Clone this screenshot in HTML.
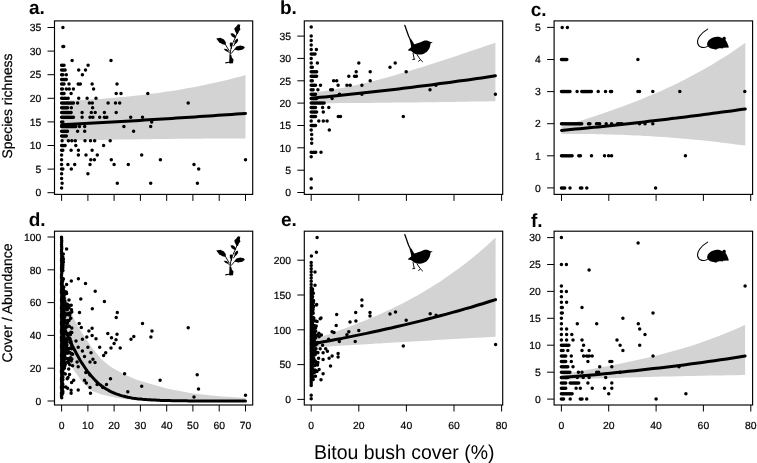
<!DOCTYPE html>
<html><head><meta charset="utf-8"><title>Bitou bush cover figure</title>
<style>html,body{margin:0;padding:0;background:#fff}svg{display:block}</style></head>
<body>
<svg width="757" height="463" viewBox="0 0 757 463" text-rendering="geometricPrecision" font-family="Liberation Sans, Arial, Helvetica, sans-serif">
<rect width="757" height="463" fill="#fff"/>
<g id="panel-a">
<polygon fill="#d3d3d3" points="61.6,101 66.2,100.8 70.8,100.6 75.4,100.4 80,100.1 84.6,99.9 89.2,99.6 93.8,99.3 98.4,99 103,98.7 107.6,98.3 112.2,97.9 116.8,97.6 121.4,97.1 126,96.7 130.6,96.2 135.2,95.7 139.8,95.2 144.4,94.7 148.9,94.1 153.5,93.5 158.1,92.9 162.7,92.3 167.3,91.6 171.9,90.9 176.5,90.2 181.1,89.4 185.7,88.6 190.3,87.8 194.9,86.9 199.5,86 204.1,85.1 208.7,84.1 213.3,83.1 217.9,82.1 222.5,81 227.1,79.9 231.7,78.8 236.3,77.6 240.9,76.4 245.5,75.1 245.5,138.4 240.9,138.5 236.3,138.5 231.7,138.5 227.1,138.5 222.5,138.5 217.9,138.5 213.3,138.6 208.7,138.6 204.1,138.6 199.5,138.7 194.9,138.7 190.3,138.7 185.7,138.8 181.1,138.8 176.5,138.8 171.9,138.9 167.3,138.9 162.7,139 158.1,139 153.5,139.1 148.9,139.2 144.4,139.2 139.8,139.3 135.2,139.4 130.6,139.4 126,139.5 121.4,139.6 116.8,139.6 112.2,139.7 107.6,139.8 103,139.9 98.4,140 93.8,140.1 89.2,140.1 84.6,140.2 80,140.3 75.4,140.4 70.8,140.5 66.2,140.6 61.6,140.7"/>
<path d="M62.9 27.5h0M62.9 46.4h0M63.7 46.4h0M72.1 60.5h0M111 60.5h0M61.6 65.3h0M62.8 65.3h0M64 65.3h0M88.1 65.3h0M61.6 70h0M62.8 70h0M64 70h0M65.1 70h0M78.7 70h0M85.5 70h0M61.6 74.7h0M62.8 74.7h0M66.3 74.7h0M82.4 74.7h0M61.6 79.4h0M62.8 79.4h0M64 79.4h0M65.1 79.4h0M66.3 79.4h0M61.6 84.1h0M62.8 84.1h0M64 84.1h0M69 84.1h0M78.2 84.1h0M80.3 84.1h0M92.1 84.1h0M117 84.1h0M61.6 88.9h0M62.4 88.9h0M66.3 88.9h0M69.2 88.9h0M73.4 88.9h0M93.6 88.9h0M61.6 93.6h0M62.8 93.6h0M64 93.6h0M71.1 93.6h0M116.2 93.6h0M121 93.6h0M147.8 93.6h0M61.6 98.3h0M62.7 98.3h0M64.8 98.3h0M65.8 98.3h0M68.2 98.3h0M78.7 98.3h0M87.1 98.3h0M96 98.3h0M61.6 103h0M62.8 103h0M64 103h0M65.1 103h0M66.3 103h0M67.5 103h0M68.7 103h0M69.9 103h0M71.1 103h0M72.2 103h0M73.4 103h0M77.6 103h0M89.4 103h0M92.3 103h0M108.1 103h0M115.5 103h0M119.7 103h0M188.2 103h0M61.6 107.7h0M62.8 107.7h0M64 107.7h0M65.1 107.7h0M66.3 107.7h0M67.5 107.7h0M71.3 107.7h0M92.6 107.7h0M61.6 112.5h0M62.8 112.5h0M64 112.5h0M65.1 112.5h0M66.3 112.5h0M67.5 112.5h0M68.7 112.5h0M69.9 112.5h0M71.1 112.5h0M82.1 112.5h0M91.3 112.5h0M95.2 112.5h0M104.4 112.5h0M116.2 112.5h0M61.6 117.2h0M62.8 117.2h0M64 117.2h0M65.1 117.2h0M66.3 117.2h0M67.5 117.2h0M68.7 117.2h0M69.9 117.2h0M71.1 117.2h0M72.2 117.2h0M73.4 117.2h0M82.1 117.2h0M90 117.2h0M92.9 117.2h0M99.7 117.2h0M104.4 117.2h0M106.8 117.2h0M130.7 117.2h0M142.5 117.2h0M61.6 121.9h0M62.8 121.9h0M151.7 121.9h0M61.6 126.6h0M62.8 126.6h0M64 126.6h0M65.1 126.6h0M66.3 126.6h0M67.5 126.6h0M68.7 126.6h0M69.9 126.6h0M71.1 126.6h0M72.2 126.6h0M73.4 126.6h0M74.6 126.6h0M75.8 126.6h0M79.5 126.6h0M84.7 126.6h0M123.9 126.6h0M150.7 126.6h0M61.6 131.3h0M62.8 131.3h0M64 131.3h0M65.1 131.3h0M66.3 131.3h0M67.5 131.3h0M77.6 131.3h0M84.7 131.3h0M133.6 131.3h0M61.6 136.1h0M62.8 136.1h0M64 136.1h0M65.1 136.1h0M66.3 136.1h0M62.1 140.8h0M68.4 140.8h0M71.8 140.8h0M75.3 140.8h0M85 140.8h0M90.5 140.8h0M94.7 140.8h0M110.2 140.8h0M61.6 145.5h0M62.8 145.5h0M64 145.5h0M65.1 145.5h0M75.8 145.5h0M103.6 145.5h0M61.6 150.2h0M62.8 150.2h0M71.1 150.2h0M78.4 150.2h0M92.1 150.2h0M61.6 154.9h0M78.4 154.9h0M86 154.9h0M97.3 154.9h0M141.7 154.9h0M61.6 159.7h0M90.8 159.7h0M94.4 159.7h0M111.3 159.7h0M160.4 159.7h0M245.5 159.7h0M61.6 164.4h0M67.9 164.4h0M74.7 164.4h0M90 164.4h0M114.1 164.4h0M128.3 164.4h0M194 164.4h0M61.6 169.1h0M62.8 169.1h0M71.3 169.1h0M198.7 169.1h0M61.6 173.8h0M87.9 173.8h0M61.6 178.5h0M62.1 183.3h0M117.3 183.3h0M150.7 183.3h0M197.4 183.3h0M61.6 188h0" stroke="#000" stroke-width="3.5" stroke-linecap="round" fill="none"/>
<polyline fill="none" stroke="#000" stroke-width="3" stroke-linecap="round" stroke-linejoin="round" points="61.6,124.7 66.2,124.5 70.8,124.3 75.4,124 80,123.8 84.6,123.5 89.2,123.3 93.8,123 98.4,122.8 103,122.5 107.6,122.3 112.2,122 116.8,121.7 121.4,121.5 126,121.2 130.6,120.9 135.2,120.7 139.8,120.4 144.4,120.1 148.9,119.8 153.5,119.6 158.1,119.3 162.7,119 167.3,118.7 171.9,118.4 176.5,118.1 181.1,117.8 185.7,117.5 190.3,117.2 194.9,116.9 199.5,116.6 204.1,116.3 208.7,116 213.3,115.7 217.9,115.3 222.5,115 227.1,114.7 231.7,114.4 236.3,114.1 240.9,113.7 245.5,113.4"/>
<rect x="54.5" y="20.9" width="198.2" height="173.5" fill="none" stroke="#000" stroke-width="1.15"/>
<path d="M54.5 192.7h-7M54.5 169.1h-7M54.5 145.5h-7M54.5 121.9h-7M54.5 98.3h-7M54.5 74.7h-7M54.5 51.1h-7M54.5 27.5h-7M61.6 194.4v6.5M87.9 194.4v6.5M114.1 194.4v6.5M140.4 194.4v6.5M166.7 194.4v6.5M192.9 194.4v6.5M219.2 194.4v6.5M245.5 194.4v6.5" stroke="#000" stroke-width="1" fill="none"/>
<g font-size="10.4" fill="#000" stroke="#000" stroke-width="0.2">
<text x="41.3" y="196.4" text-anchor="end">0</text>
<text x="41.3" y="172.8" text-anchor="end">5</text>
<text x="41.3" y="149.2" text-anchor="end">10</text>
<text x="41.3" y="125.6" text-anchor="end">15</text>
<text x="41.3" y="102" text-anchor="end">20</text>
<text x="41.3" y="78.4" text-anchor="end">25</text>
<text x="41.3" y="54.8" text-anchor="end">30</text>
<text x="41.3" y="31.2" text-anchor="end">35</text>
</g>
<text x="29" y="13.9" font-size="19" font-weight="bold" fill="#000">a.</text>
</g>
<g id="panel-b">
<polygon fill="#d3d3d3" points="311.2,93.1 315.8,92.4 320.4,91.8 325,91.1 329.6,90.3 334.2,89.5 338.8,88.6 343.4,87.7 348,86.8 352.6,85.8 357.3,84.8 361.9,83.7 366.5,82.7 371.1,81.5 375.7,80.4 380.3,79.2 384.9,77.9 389.5,76.7 394.1,75.4 398.7,74.1 403.3,72.7 407.9,71.4 412.5,70 417.1,68.6 421.7,67.2 426.3,65.7 430.9,64.2 435.5,62.8 440.1,61.3 444.8,59.8 449.4,58.2 454,56.7 458.6,55.2 463.2,53.6 467.8,52.1 472.4,50.5 477,48.9 481.6,47.4 486.2,45.8 490.8,44.2 495.4,42.7 495.4,101.2 490.8,101.3 486.2,101.4 481.6,101.5 477,101.5 472.4,101.6 467.8,101.7 463.2,101.8 458.6,101.8 454,101.9 449.4,102 444.8,102 440.1,102.1 435.5,102.2 430.9,102.2 426.3,102.3 421.7,102.3 417.1,102.4 412.5,102.4 407.9,102.5 403.3,102.5 398.7,102.6 394.1,102.6 389.5,102.7 384.9,102.7 380.3,102.8 375.7,102.8 371.1,102.9 366.5,102.9 361.9,102.9 357.3,103 352.6,103 348,103.1 343.4,103.1 338.8,103.1 334.2,103.2 329.6,103.2 325,103.2 320.4,103.2 315.8,103.3 311.2,103.3"/>
<path d="M311.2 27.1h0M311.2 36.1h0M311.2 40.5h0M311.2 45h0M311.2 49.5h0M316.4 49.5h0M311.2 53.9h0M313.1 53.9h0M315 53.9h0M311.2 58.4h0M311.2 62.9h0M317.4 62.9h0M358.8 62.9h0M395.2 62.9h0M311.2 67.3h0M312.3 67.3h0M390 67.3h0M311.2 71.8h0M312.3 71.8h0M313.3 71.8h0M314.4 71.8h0M315.5 71.8h0M316.6 71.8h0M356.2 71.8h0M370.2 71.8h0M406.2 71.8h0M311.2 76.3h0M312.3 76.3h0M313.3 76.3h0M314.4 76.3h0M315.5 76.3h0M316.6 76.3h0M348.8 76.3h0M354.5 76.3h0M356.4 76.3h0M311.2 80.8h0M312.3 80.8h0M333.6 80.8h0M336.7 80.8h0M370.2 80.8h0M311.2 85.2h0M312.3 85.2h0M313.3 85.2h0M314.4 85.2h0M315.5 85.2h0M320.5 85.2h0M338.1 85.2h0M346.9 85.2h0M350.2 85.2h0M361.9 85.2h0M435.9 85.2h0M311.2 89.7h0M313.1 89.7h0M317.9 89.7h0M330.7 89.7h0M332.4 89.7h0M430 89.7h0M311.2 94.2h0M312.3 94.2h0M313.3 94.2h0M314.4 94.2h0M315.5 94.2h0M339.5 94.2h0M361.9 94.2h0M495.4 94.2h0M311.2 98.6h0M312.3 98.6h0M313.3 98.6h0M314.4 98.6h0M315.5 98.6h0M316.6 98.6h0M332.1 98.6h0M311.2 103.1h0M312.3 103.1h0M313.3 103.1h0M314.4 103.1h0M315.5 103.1h0M316.6 103.1h0M317.6 103.1h0M318.7 103.1h0M319.8 103.1h0M320.8 103.1h0M321.9 103.1h0M323 103.1h0M324.1 103.1h0M311.2 107.6h0M312.3 107.6h0M313.3 107.6h0M314.4 107.6h0M315.5 107.6h0M322.6 107.6h0M328.8 107.6h0M311.2 112h0M312.3 112h0M313.3 112h0M314.4 112h0M315.5 112h0M316.6 112h0M323.3 112h0M311.2 116.5h0M312.3 116.5h0M313.3 116.5h0M314.4 116.5h0M315.5 116.5h0M338.3 116.5h0M340.5 116.5h0M403.3 116.5h0M311.2 121h0M318.8 121h0M323.3 121h0M327.1 121h0M311.2 125.5h0M312.3 125.5h0M313.3 125.5h0M314.4 125.5h0M315.5 125.5h0M311.2 129.9h0M329.3 129.9h0M311.7 134.4h0M311.7 138.9h0M311.7 143.3h0M311.2 152.3h0M313.6 152.3h0M315.7 152.3h0M321 152.3h0M311.2 156.7h0M311.2 179.1h0M311.2 188h0" stroke="#000" stroke-width="3.5" stroke-linecap="round" fill="none"/>
<polyline fill="none" stroke="#000" stroke-width="3" stroke-linecap="round" stroke-linejoin="round" points="311.2,98.2 315.8,97.8 320.4,97.3 325,96.9 329.6,96.4 334.2,96 338.8,95.5 343.4,95 348,94.6 352.6,94.1 357.3,93.6 361.9,93.1 366.5,92.6 371.1,92.1 375.7,91.6 380.3,91 384.9,90.5 389.5,90 394.1,89.4 398.7,88.9 403.3,88.3 407.9,87.8 412.5,87.2 417.1,86.6 421.7,86 426.3,85.4 430.9,84.9 435.5,84.3 440.1,83.6 444.8,83 449.4,82.4 454,81.8 458.6,81.1 463.2,80.5 467.8,79.9 472.4,79.2 477,78.5 481.6,77.9 486.2,77.2 490.8,76.5 495.4,75.8"/>
<rect x="304.3" y="20.9" width="198.4" height="173.5" fill="none" stroke="#000" stroke-width="1.15"/>
<path d="M304.3 192.5h-7M304.3 170.2h-7M304.3 147.8h-7M304.3 125.5h-7M304.3 103.1h-7M304.3 80.8h-7M304.3 58.4h-7M304.3 36.1h-7M311.2 194.4v6.5M358.8 194.4v6.5M406.4 194.4v6.5M454 194.4v6.5M501.6 194.4v6.5" stroke="#000" stroke-width="1" fill="none"/>
<g font-size="10.4" fill="#000" stroke="#000" stroke-width="0.2">
<text x="291.1" y="196.2" text-anchor="end">0</text>
<text x="291.1" y="173.8" text-anchor="end">5</text>
<text x="291.1" y="151.5" text-anchor="end">10</text>
<text x="291.1" y="129.2" text-anchor="end">15</text>
<text x="291.1" y="106.8" text-anchor="end">20</text>
<text x="291.1" y="84.5" text-anchor="end">25</text>
<text x="291.1" y="62.1" text-anchor="end">30</text>
<text x="291.1" y="39.8" text-anchor="end">35</text>
</g>
<text x="279.9" y="14.1" font-size="19" font-weight="bold" fill="#000">b.</text>
</g>
<g id="panel-c">
<polygon fill="#d3d3d3" points="561.5,126.5 566.1,125.2 570.7,123.7 575.3,122.3 579.9,120.9 584.5,119.4 589.1,117.9 593.7,116.4 598.3,114.9 602.8,113.4 607.4,111.8 612,110.2 616.6,108.6 621.2,106.9 625.8,105.2 630.4,103.5 635,101.7 639.6,99.9 644.2,98 648.8,96.1 653.4,94.2 658,92.2 662.6,90.2 667.2,88.1 671.8,85.9 676.4,83.7 680.9,81.5 685.5,79.2 690.1,76.8 694.7,74.3 699.3,71.8 703.9,69.3 708.5,66.6 713.1,63.9 717.7,61.1 722.3,58.3 726.9,55.4 731.5,52.4 736.1,49.3 740.7,46.1 745.3,42.8 745.3,145.6 740.7,145 736.1,144.4 731.5,143.8 726.9,143.2 722.3,142.7 717.7,142.1 713.1,141.6 708.5,141.1 703.9,140.6 699.3,140.1 694.7,139.7 690.1,139.2 685.5,138.8 680.9,138.4 676.4,138 671.8,137.7 667.2,137.3 662.6,137 658,136.7 653.4,136.4 648.8,136.1 644.2,135.9 639.6,135.6 635,135.4 630.4,135.2 625.8,135 621.2,134.8 616.6,134.7 612,134.5 607.4,134.4 602.8,134.3 598.3,134.2 593.7,134.1 589.1,134.1 584.5,134 579.9,134 575.3,134 570.7,134 566.1,134.1 561.5,134.1"/>
<path d="M562.2 27.4h0M567.4 27.4h0M561.5 59.5h0M562.6 59.5h0M563.6 59.5h0M564.7 59.5h0M565.8 59.5h0M566.8 59.5h0M637.9 59.5h0M561.5 91.6h0M562.6 91.6h0M563.6 91.6h0M564.7 91.6h0M565.8 91.6h0M566.8 91.6h0M567.9 91.6h0M568.9 91.6h0M570 91.6h0M577.1 91.6h0M581.8 91.6h0M582.9 91.6h0M584 91.6h0M585 91.6h0M586.1 91.6h0M587.2 91.6h0M588.2 91.6h0M589.3 91.6h0M590.4 91.6h0M591.4 91.6h0M598.2 91.6h0M605.5 91.6h0M610.5 91.6h0M611.6 91.6h0M637.9 91.6h0M639.5 91.6h0M652.8 91.6h0M679.8 91.6h0M744.8 91.6h0M561.5 123.7h0M562.6 123.7h0M563.6 123.7h0M564.7 123.7h0M565.8 123.7h0M566.8 123.7h0M567.9 123.7h0M568.9 123.7h0M570 123.7h0M571.1 123.7h0M572.1 123.7h0M573.2 123.7h0M574.3 123.7h0M575.3 123.7h0M576.4 123.7h0M577.5 123.7h0M578.5 123.7h0M579.6 123.7h0M580.7 123.7h0M581.7 123.7h0M588.5 123.7h0M589.9 123.7h0M596.5 123.7h0M597.6 123.7h0M598.6 123.7h0M599.7 123.7h0M606.2 123.7h0M611.6 123.7h0M617.6 123.7h0M618.6 123.7h0M619.7 123.7h0M620.7 123.7h0M621.8 123.7h0M639.5 123.7h0M645 123.7h0M652.8 123.7h0M561.5 155.8h0M562.6 155.8h0M563.6 155.8h0M564.7 155.8h0M565.8 155.8h0M566.8 155.8h0M567.9 155.8h0M568.9 155.8h0M570 155.8h0M571.1 155.8h0M572.1 155.8h0M578.8 155.8h0M580.4 155.8h0M591.5 155.8h0M604.5 155.8h0M608.6 155.8h0M611.6 155.8h0M685.4 155.8h0M561.5 187.9h0M562.6 187.9h0M563.6 187.9h0M564.7 187.9h0M570 187.9h0M580.4 187.9h0M581.8 187.9h0M586.8 187.9h0M655.6 187.9h0" stroke="#000" stroke-width="3.5" stroke-linecap="round" fill="none"/>
<polyline fill="none" stroke="#000" stroke-width="3" stroke-linecap="round" stroke-linejoin="round" points="561.5,130.4 566.1,130 570.7,129.6 575.3,129.1 579.9,128.7 584.5,128.2 589.1,127.8 593.7,127.3 598.3,126.9 602.8,126.4 607.4,125.9 612,125.4 616.6,124.9 621.2,124.4 625.8,123.9 630.4,123.4 635,122.9 639.6,122.4 644.2,121.9 648.8,121.3 653.4,120.8 658,120.3 662.6,119.7 667.2,119.2 671.8,118.6 676.4,118.1 680.9,117.5 685.5,116.9 690.1,116.3 694.7,115.7 699.3,115.2 703.9,114.6 708.5,114 713.1,113.3 717.7,112.7 722.3,112.1 726.9,111.5 731.5,110.9 736.1,110.2 740.7,109.6 745.3,108.9"/>
<rect x="554.1" y="20.9" width="198.5" height="173.5" fill="none" stroke="#000" stroke-width="1.15"/>
<path d="M554.1 187.9h-7M554.1 155.8h-7M554.1 123.7h-7M554.1 91.6h-7M554.1 59.5h-7M554.1 27.4h-7M561.5 194.4v6.5M608.8 194.4v6.5M656.1 194.4v6.5M703.4 194.4v6.5M750.7 194.4v6.5" stroke="#000" stroke-width="1" fill="none"/>
<g font-size="10.4" fill="#000" stroke="#000" stroke-width="0.2">
<text x="540.9" y="191.6" text-anchor="end">0</text>
<text x="540.9" y="159.5" text-anchor="end">1</text>
<text x="540.9" y="127.4" text-anchor="end">2</text>
<text x="540.9" y="95.3" text-anchor="end">3</text>
<text x="540.9" y="63.2" text-anchor="end">4</text>
<text x="540.9" y="31.1" text-anchor="end">5</text>
</g>
<text x="530.8" y="15.9" font-size="19" font-weight="bold" fill="#000">c.</text>
</g>
<g id="panel-d">
<polygon fill="#d3d3d3" points="61.6,282.9 63.4,289 67.9,301.9 73.2,317.5 80.8,331 91.8,347.5 101,358.7 109.9,366.2 114.9,369.2 125.7,374.9 136.5,379.7 150.1,383.8 166.7,388.5 192.9,393.5 219.2,396.2 245.5,397.9 245.5,401.5 166.7,401 140.4,400.3 125.7,399.2 109.9,396.4 101,394.3 91.8,390.7 82.6,382.5 73.4,369.5 68.7,356.7 64.2,338.7 61.6,325.6"/>
<path d="M66.6 249h0M71.3 281h0M78.4 278.7h0M85.5 283.4h0M95.2 291.3h0M104.4 301.6h0M80.8 299h0M92.3 308.7h0M79.5 312.6h0M117.3 312.6h0M116.2 317.5h0M66.6 284.6h0M66.6 293.6h0M69 300h0M68.4 307.5h0M69.5 314.1h0M142.5 323.4h0M79.2 323.4h0M81.3 327.4h0M92.1 328.3h0M88.9 331.1h0M107.8 333.4h0M117 334.3h0M92.1 335.6h0M86.8 337h0M111.5 337.7h0M96 338.7h0M133.8 336.4h0M131 339.2h0M116 339.8h0M82.4 339.2h0M76 341h0M114.1 343.6h0M99.7 347.2h0M111 347.9h0M120.2 347.9h0M87.9 347.2h0M78.2 347.2h0M82.4 351.1h0M91 352.8h0M105.7 352.8h0M103.6 355.4h0M84.5 356.6h0M72.6 354.3h0M92.9 359.3h0M90 362h0M95 362.6h0M77.1 362h0M78.2 366.7h0M72.6 365.7h0M85.8 372.6h0M124.6 373.8h0M69.5 374.4h0M110.5 378.7h0M90 374.9h0M84.5 380.3h0M73.7 380.3h0M71.6 382.5h0M86.3 383.1h0M97.1 384.6h0M106.5 384.6h0M102.8 387.4h0M90 387.4h0M141.7 386.2h0M127.8 391.7h0M90.5 393.3h0M78.2 390h0M71.1 390.3h0M71.1 393.3h0M188.2 327.7h0M152 331h0M150.9 337h0M160.1 380.2h0M197.2 374.8h0M198.5 389h0M194 396.9h0M245.5 395.3h0M61.7 397.7h0M61.5 395.9h0M61.5 394.1h0M61.7 392.3h0M61.7 390.5h0M61.6 388.7h0M61.5 386.9h0M61.6 385.1h0M61.7 383.3h0M61.6 381.5h0M61.5 379.7h0M61.5 377.9h0M61.7 376.1h0M61.7 374.3h0M61.5 372.5h0M61.5 370.7h0M61.6 368.9h0M61.7 367.1h0M61.6 365.2h0M61.5 363.4h0M61.6 361.6h0M61.7 359.8h0M61.7 358h0M61.5 356.2h0M61.5 354.4h0M61.7 352.6h0M61.7 350.8h0M61.6 349h0M61.5 347.2h0M61.6 345.4h0M61.7 343.6h0M61.6 341.8h0M61.5 340h0M61.6 338.2h0M61.7 336.4h0M61.7 334.6h0M61.5 332.8h0M61.5 331h0M61.6 329.2h0M61.7 327.4h0M61.6 325.6h0M61.5 323.8h0M61.6 322h0M61.7 320.1h0M61.6 318.3h0M61.5 316.5h0M61.5 314.7h0M61.7 312.9h0M61.7 311.1h0M61.6 309.3h0M61.5 307.5h0M61.6 305.7h0M61.7 303.9h0M61.6 302.1h0M61.5 300.3h0M61.6 298.5h0M61.7 296.7h0M61.7 294.9h0M61.5 293.1h0M61.5 291.3h0M61.6 289.5h0M61.7 287.7h0M61.6 285.9h0M61.5 284.1h0M61.6 282.3h0M61.7 280.5h0M61.6 278.7h0M61.5 276.9h0M61.5 275h0M61.7 273.2h0M61.7 271.4h0M61.6 269.6h0M61.5 267.8h0M61.6 266h0M61.7 264.2h0M61.6 262.4h0M61.5 260.6h0M61.6 258.8h0M61.7 257h0M61.7 255.2h0M61.5 253.4h0M61.5 251.6h0M61.6 249.8h0M61.7 248h0M61.6 246.2h0M61.5 244.4h0M61.6 242.6h0M61.7 240.8h0M61.6 239h0M61.5 237.2h0M61.9 339.5h0M61.7 313.8h0M62.5 322.8h0M62.9 360.3h0M62.7 362h0M61.7 359.3h0M63.8 331.5h0M62.1 355.2h0M64.1 315.6h0M62.6 319.5h0M61.6 288h0M62.3 297.4h0M61.8 353.6h0M63.7 340.6h0M63.1 350.7h0M62.5 314.6h0M61.7 321.8h0M62 360.2h0M62.7 311.3h0M63.1 340.2h0M62.3 329.2h0M63.4 302.4h0M63 345.7h0M63.9 323.6h0M62.3 307.5h0M61.8 287.8h0M63.5 332h0M62.8 352.9h0M63.3 361.8h0M63 304.7h0M62.3 296h0M63.1 310.1h0M62.7 319.3h0M64.1 298.8h0M63.3 327.5h0M63.4 360.2h0M64.2 313.9h0M62.3 300.1h0M63.3 334.6h0M62.7 363.1h0M61.8 351.6h0M63.6 360.3h0M62.2 354.8h0M63.9 334.1h0M62.7 358.5h0M63.9 321.6h0M63.9 300.5h0M62.6 342.9h0M63.9 336.7h0M61.9 289.5h0M62.1 351h0M62.8 346.6h0M62.2 318.5h0M62.6 364.6h0M63 335.9h0M63.4 290h0M63.2 324.4h0M61.6 311.6h0M63.6 294.1h0M63.7 296h0M62.6 334.1h0M63.2 356.7h0M61.7 360h0M61.9 348.5h0M61.6 338.2h0M61.9 364.9h0M62.5 356.9h0M63.9 363h0M61.9 316.5h0M62.4 345.1h0M61.8 336.2h0M64.2 298.2h0M62.8 328.2h0M61.8 358.2h0M62.2 338h0M61.9 299.6h0M64.1 363.1h0M61.9 323.3h0M61.5 322.1h0M64.2 323.4h0M63.4 297h0M62.5 344.4h0M63.6 351.8h0M63.6 322.9h0M62.1 339h0M64.2 301h0M63.7 297.8h0M63.5 300.5h0M62.9 347h0M61.5 336.9h0M62.2 362.8h0M63.4 344.6h0M62.7 289.6h0M64.2 291.1h0M62.5 289.8h0M62.1 347.5h0M62 349.5h0M64 315.7h0M62.8 298.8h0M63.7 313.6h0M63.3 358.2h0M63.6 293.3h0M62.8 305.9h0M63.6 350.8h0M63.7 338.7h0M62.6 288.5h0M64.1 333.3h0M61.9 307.8h0M61.9 354.9h0M63.7 293.7h0M63.8 353.4h0M63.3 287.7h0M63 337.4h0M61.5 354.6h0M63.3 288.5h0M64 323.4h0M63.9 330.8h0M62 299.8h0M62.3 345.1h0M63.1 346.1h0M62.6 344.6h0M64 354.6h0M62.7 337h0M64 319h0M64 331.8h0M62.9 325.4h0M61.5 323.8h0M62 330.3h0M63.7 364.6h0M62.8 351.3h0M63 307.8h0M62.9 339.3h0M63.6 321.1h0M63 356.6h0M62.2 345.4h0M62.9 304.1h0M63.6 320.6h0M62.7 293.1h0M62.9 316.7h0M63.4 324.6h0M62.9 329.3h0M64.1 327.4h0M63.9 309.8h0M62.2 290.8h0M64.1 320.8h0M61.8 298.8h0M62.7 355.4h0M62.1 359.2h0M63.3 359.2h0M63.9 303.3h0M63.4 352.8h0M61.9 312.9h0M64.1 295.4h0M64.1 347.7h0M62.8 333.6h0M63.8 287h0M62.7 352.1h0M62.4 324.4h0M62.3 349.5h0M61.5 308h0M62.7 321.3h0M62.4 363.4h0M62.9 315.9h0M64.2 359.8h0M64.1 302.9h0M62.2 356.7h0M63.6 361.8h0M61.8 343.6h0M64 331.6h0M62.2 300.5h0M64 353.1h0M63.4 320h0M61.6 357.9h0M62.7 310.8h0M64.1 359.2h0M63.7 314.9h0M63.8 358.4h0M63.9 359.7h0M62.4 329.2h0M64 321.5h0M61.8 343.8h0M62.1 323.4h0M61.9 356.2h0M62 361h0M62.3 340.3h0M62.3 305.1h0M62 325.6h0M61.5 337.5h0M61.5 345.2h0M63 307.2h0M62.2 388.9h0M61.6 366.9h0M62.2 370.3h0M62.8 379.8h0M62.3 382.8h0M63 374.1h0M62.8 384.3h0M62.5 373.6h0M62 382.5h0M61.7 392.8h0M62.6 392.3h0M61.7 386.9h0M62.8 392h0M62.5 368.7h0M61.9 386.1h0M62.2 385.7h0M62.2 389.8h0M63 386.7h0M62.3 365.7h0M63 387.2h0M62 385.3h0M62.1 394.4h0M62.3 380.5h0M62.3 388.5h0M61.9 394.3h0M62.1 391.8h0M61.5 393.1h0M61.8 385.4h0M62.3 377.2h0M62.5 372.3h0M62.9 373.3h0M62 383h0M61.7 365.4h0M62.5 373.1h0M62.8 393.1h0M62.5 368h0M62.8 372.8h0M62.3 390.3h0M62.8 379.5h0M62.8 370.7h0M62.9 377.2h0M62.6 374.3h0M61.5 387.7h0M62 390.5h0M62.8 391.3h0M62.8 267.8h0M62.9 265.7h0M61.6 270.1h0M63 260h0M62.6 269.6h0M61.7 264.6h0M62.1 262.1h0M62.1 283.7h0M62 262.3h0M63.4 261.9h0M62.3 270h0M62.9 270.5h0M62.7 261.1h0M61.7 265h0M62.1 281.4h0M62.2 261.8h0M61.6 267.5h0M62.1 284.2h0M62.9 264.2h0M62.1 264.1h0M62.5 269.3h0M61.8 270.9h0M62 256.8h0M63.3 254.1h0M62.4 285.5h0M63.4 259.3h0M62.1 271.4h0M63.3 279.3h0M62.7 279.3h0M62.6 281.6h0M61.8 254.9h0M62.5 259.3h0M62.9 257.2h0M63.3 278.7h0M61.7 270.3h0M65.8 387.1h0M64.9 344.4h0M65.1 365.1h0M68.8 352.1h0M67.6 388.2h0M64.3 319.2h0M67.2 309.7h0M64.9 312.8h0M65.3 348.7h0M66.3 292.1h0M65.4 349.3h0M64.1 354.8h0M68.7 369h0M71.2 353.9h0M64.8 356.4h0M64.5 341.3h0M71.8 348.7h0M68.4 314.7h0M70.4 334.6h0M66.1 307.5h0M64.1 328.8h0M65.5 327.9h0M66.7 326.4h0M64.1 353.9h0M64.3 309.5h0M65.1 343.4h0M67.5 353.3h0M64.8 301h0M64.9 332.9h0M65.3 338.8h0M64.4 362.8h0M70.2 359.5h0M64.6 342.1h0M71.8 312.1h0M64.4 344.6h0M64.2 360.7h0M64.2 350.5h0M64.8 357.2h0M69.7 338.2h0M65.4 326.5h0M65.9 346.4h0M65 348.5h0M64.8 373.8h0M64.3 302.8h0M66.6 341.8h0M64.6 317h0M64.7 354.9h0M65.5 347.2h0M68.9 305.4h0M64 315.9h0M67.2 378.7h0M65.6 313.4h0M64 337.2h0M70.8 347.7h0M69 320.5h0M64.7 301.8h0M64.4 368.2h0M67 340.8h0M67.3 307.4h0M67.8 333.6h0M66.1 344.1h0M68 377.4h0M70.6 357.7h0M64.9 333.6h0M64.7 366.2h0M67.1 334.3h0M64.1 367.9h0M66.2 340.6h0M64.6 347.9h0M64 336.4h0M65.6 352.9h0M66.7 304.6h0M65.6 314.7h0M64.7 357.5h0M67.2 304.2h0M64 352.6h0M66.9 342h0M64.8 346.1h0M70.8 332.3h0M64 358h0M65.4 350.7h0M64.5 331.3h0M67.5 322.9h0M64.6 341.6h0M64.9 302.4h0M64.6 321h0M67.7 358.4h0M71.8 353.4h0M64.5 342.1h0M65.4 358.4h0M71.8 332.4h0M65.3 364.6h0M71.8 359h0M64.1 364.9h0M65.3 374.1h0M69.6 313.1h0M71.8 327.9h0M65 308.8h0M71.2 361.1h0M64 326.9h0M67 323.6h0M66.7 341.6h0M64.3 354.4h0M66.8 347.5h0M65.1 305.4h0M65.8 304.9h0M70.3 342.6h0M67.4 313.8h0M67.7 361.8h0M71 341.6h0M66.9 352.9h0M64.4 309h0M70.2 339.3h0M64.5 317.2h0M64.7 362.8h0M66.1 307.5h0M70.8 318.3h0M66.2 343.8h0M68.8 305.2h0M69.5 348.5h0M66.2 345.2h0M69.8 364.8h0M68.9 307.8h0M64.4 306.2h0M67.7 350.3h0M71.2 305.2h0M66.1 340.8h0M67.9 338.2h0M65.6 307h0M69.7 314.9h0M69.9 313.6h0M66.6 327h0M66.9 345.1h0M64.8 316.2h0M69.8 352.6h0M64.7 349.5h0M68.3 362.8h0M71.4 344.6h0M71.5 309.8h0M64.9 348.4h0M67.9 358.9h0M67.5 320.6h0M67.3 350.3h0M69.2 326.2h0M70.5 318.3h0" stroke="#000" stroke-width="3.5" stroke-linecap="round" fill="none"/>
<polyline fill="none" stroke="#000" stroke-width="3" stroke-linecap="round" stroke-linejoin="round" points="61.6,322.3 63.4,326.4 65.3,330.5 67.1,334.6 69,338.5 70.8,342.4 72.6,346.2 74.5,349.8 76.3,353.3 78.2,356.7 80,359.9 81.8,362.9 83.7,365.8 85.5,368.5 87.3,371.1 89.2,373.5 91,375.8 92.9,377.8 94.7,379.8 96.5,381.6 98.4,383.3 100.2,384.8 102.1,386.2 103.9,387.5 105.7,388.7 107.6,389.8 109.4,390.9 111.3,391.8 113.1,392.6 114.9,393.4 116.8,394.1 118.6,394.7 120.4,395.3 122.3,395.9 124.1,396.3 126,396.8 127.8,397.2 129.6,397.5 131.5,397.9 133.3,398.2 135.2,398.4 137,398.7 138.8,398.9 140.7,399.1 142.5,399.3 144.4,399.4 146.2,399.6 148,399.7 149.9,399.8 151.7,400 153.5,400.1 155.4,400.1 157.2,400.2 159.1,400.3 160.9,400.4 162.7,400.4 164.6,400.5 166.4,400.5 168.3,400.6 170.1,400.6 171.9,400.7 173.8,400.7 175.6,400.7 177.5,400.7 179.3,400.8 181.1,400.8 183,400.8 184.8,400.8 186.6,400.8 188.5,400.9 190.3,400.9 192.2,400.9 194,400.9 195.8,400.9 197.7,400.9 199.5,400.9 201.4,400.9 203.2,400.9 205,400.9 206.9,401 208.7,401 210.6,401 212.4,401 214.2,401 216.1,401 217.9,401 219.7,401 221.6,401 223.4,401 225.3,401 227.1,401 228.9,401 230.8,401 232.6,401 234.5,401 236.3,401 238.1,401 240,401 241.8,401 243.7,401 245.5,401"/>
<rect x="54.5" y="231.2" width="198.2" height="173.8" fill="none" stroke="#000" stroke-width="1.15"/>
<path d="M54.5 401h-7M54.5 368.2h-7M54.5 335.4h-7M54.5 302.6h-7M54.5 269.8h-7M54.5 237h-7M61.6 405v6.5M87.9 405v6.5M114.1 405v6.5M140.4 405v6.5M166.7 405v6.5M192.9 405v6.5M219.2 405v6.5M245.5 405v6.5" stroke="#000" stroke-width="1" fill="none"/>
<g font-size="10.4" fill="#000" stroke="#000" stroke-width="0.2">
<text x="41.3" y="404.7" text-anchor="end">0</text>
<text x="41.3" y="371.9" text-anchor="end">20</text>
<text x="41.3" y="339.1" text-anchor="end">40</text>
<text x="41.3" y="306.3" text-anchor="end">60</text>
<text x="41.3" y="273.5" text-anchor="end">80</text>
<text x="41.3" y="240.7" text-anchor="end">100</text>
<text x="61.6" y="429.4" text-anchor="middle">0</text>
<text x="87.9" y="429.4" text-anchor="middle">10</text>
<text x="114.1" y="429.4" text-anchor="middle">20</text>
<text x="140.4" y="429.4" text-anchor="middle">30</text>
<text x="166.7" y="429.4" text-anchor="middle">40</text>
<text x="192.9" y="429.4" text-anchor="middle">50</text>
<text x="219.2" y="429.4" text-anchor="middle">60</text>
<text x="245.5" y="429.4" text-anchor="middle">70</text>
</g>
<text x="28.7" y="226.3" font-size="19" font-weight="bold" fill="#000">d.</text>
</g>
<g id="panel-e">
<polygon fill="#d3d3d3" points="311.2,340.4 315.8,338.8 320.4,337.2 325,335.6 329.6,334 334.3,332.3 338.9,330.6 343.5,328.9 348.1,327.2 352.7,325.4 357.3,323.6 361.9,321.8 366.5,319.9 371.1,318 375.8,316 380.4,313.9 385,311.8 389.6,309.7 394.2,307.5 398.8,305.2 403.4,302.9 408,300.4 412.6,298 417.3,295.4 421.9,292.8 426.5,290 431.1,287.2 435.7,284.3 440.3,281.4 444.9,278.3 449.5,275.1 454.1,271.8 458.8,268.5 463.4,265 468,261.4 472.6,257.7 477.2,253.9 481.8,249.9 486.4,245.9 491,241.7 495.6,237.4 495.6,336.7 491,336.9 486.4,337.2 481.8,337.5 477.2,337.7 472.6,338 468,338.2 463.4,338.5 458.8,338.8 454.1,339 449.5,339.3 444.9,339.6 440.3,339.8 435.7,340.1 431.1,340.4 426.5,340.7 421.9,340.9 417.3,341.2 412.6,341.5 408,341.7 403.4,342 398.8,342.3 394.2,342.5 389.6,342.8 385,343.1 380.4,343.4 375.8,343.6 371.1,343.9 366.5,344.2 361.9,344.5 357.3,344.7 352.7,345 348.1,345.3 343.5,345.6 338.9,345.8 334.3,346.1 329.6,346.4 325,346.7 320.4,347 315.8,347.2 311.2,347.5"/>
<path d="M317.1 237.6h0M316.4 252.2h0M311.4 256h0M315 272h0M315 285.3h0M316.4 305h0M321 318h0M336.7 314.5h0M355.7 312.4h0M361.9 299.9h0M361.9 305.7h0M370 312.6h0M370 316h0M390 313.9h0M395.5 311.9h0M316.7 304.4h0M406.2 320.3h0M320.2 318.7h0M317.1 321.4h0M350 322.1h0M355.9 321h0M336.2 325.6h0M315.5 328.1h0M358.8 330.5h0M348.8 331.7h0M332.1 331.7h0M334 332.6h0M346.9 334.7h0M321.4 335h0M316.7 335.7h0M328.6 339.3h0M339.3 341.6h0M355.2 341.6h0M403.3 345.9h0M322.6 345.3h0M320.2 348.8h0M325.7 348.8h0M327.4 351.2h0M323.1 352.8h0M338.1 353.5h0M332.1 355.9h0M338.1 357.1h0M329.1 358.3h0M323.1 359.5h0M330.5 366.1h0M319.1 369.5h0M323.1 373.7h0M321 379.7h0M315.5 376.2h0M311.2 395.2h0M311.2 398.7h0M430.2 313.8h0M436.1 315.2h0M495.6 344.4h0M311.2 385.5h0M311.2 383.9h0M311.2 382.4h0M311.2 380.9h0M311.2 379.4h0M311.2 377.8h0M311.2 376.3h0M311.2 374.8h0M311.2 373.2h0M311.2 371.7h0M311.2 370.2h0M311.2 368.6h0M311.2 367.1h0M311.2 365.6h0M311.2 364h0M311.2 362.5h0M311.2 361h0M311.2 359.4h0M311.2 357.9h0M311.2 356.4h0M311.2 354.9h0M311.2 353.3h0M311.2 351.8h0M311.2 350.3h0M311.2 348.7h0M311.2 347.2h0M311.2 345.7h0M311.2 344.1h0M311.2 342.6h0M311.2 341.1h0M311.2 339.5h0M311.2 338h0M311.2 336.5h0M311.2 335h0M311.2 333.4h0M311.2 331.9h0M311.2 330.4h0M311.2 328.8h0M311.2 327.3h0M311.2 325.8h0M311.2 324.2h0M311.2 322.7h0M311.2 321.2h0M311.2 319.6h0M311.2 318.1h0M311.2 316.6h0M311.2 315h0M311.2 313.5h0M311.2 312h0M311.2 310.5h0M311.2 308.9h0M311.2 307.4h0M311.2 305.9h0M311.2 304.3h0M311.2 302.8h0M311.2 301.3h0M311.2 299.7h0M311.2 298.2h0M311.2 296.7h0M311.2 295.1h0M311.2 293.6h0M311.2 292.1h0M311.2 290.5h0M311.2 289h0M311.2 287.5h0M311.2 284.4h0M311.2 281.2h0M311.2 278.1h0M311.2 275h0M311.2 271.8h0M311.2 268.7h0M311.2 265.6h0M311.2 262.4h0M311.5 318.9h0M311.9 302.7h0M312 327.9h0M311.7 312.1h0M311.7 357.2h0M313.2 365.9h0M311.9 326.8h0M313.4 343.5h0M311.7 333.3h0M312.7 305.6h0M311.4 288.9h0M313.1 336.3h0M313.3 302.7h0M311.9 376.2h0M311.6 369h0M312.5 290.5h0M312 294.4h0M312.2 300.4h0M313 356h0M311.4 293.1h0M312.6 325.1h0M312 359.9h0M311.7 366.9h0M312.6 356.5h0M311.7 320.1h0M311.9 378.9h0M311.6 317.6h0M311.7 351.2h0M312.4 306.8h0M311.4 374.1h0M312.4 343.6h0M311.4 321.2h0M312.8 364.9h0M311.8 342.3h0M313.4 351.7h0M312.5 351.2h0M312.2 347.1h0M313.5 300.5h0M311.7 346.5h0M311.7 313h0M313.2 379.4h0M313.1 341h0M313.2 342.6h0M311.6 337.6h0M312.4 378.5h0M313.2 321h0M312.6 371.7h0M312.3 345.8h0M311.8 366.5h0M313.3 332h0M312.3 369.9h0M313.4 306h0M311.5 361.8h0M313.4 293.3h0M311.3 335.6h0M312.1 294.8h0M312.6 296.8h0M311.6 304.2h0M311.7 307.7h0M313.1 342.7h0M311.6 303.7h0M312.1 359.9h0M312.1 332.3h0M311.7 368.6h0M313.2 313.3h0M312.5 376.2h0M311.3 310.3h0M311.5 302.9h0M312.4 324.9h0M311.9 322.3h0M312.5 341.4h0M312.7 340.8h0M312.2 338.8h0M312.6 377.8h0M311.7 335h0M313 309.8h0M311.6 337.8h0M311.4 336.4h0M312.2 368.1h0M312.2 371.5h0M311.3 333.1h0M311.4 321.4h0M313 312.5h0M311.3 332.9h0M312.1 333.6h0M311.5 292.6h0M313.5 301.2h0M313 312.7h0M313.4 362.1h0M313.4 334.7h0M311.6 295.8h0M313.3 307.5h0M312 373.9h0M311.6 310.5h0M311.8 297.6h0M311.5 305h0M313.3 333.8h0M311.8 360.8h0M311.9 333.4h0M311.6 376.5h0M313.3 365.1h0M313.2 317.5h0M313 364.4h0M312.4 369.3h0M312 321.4h0M312.5 299.7h0M313.2 326.6h0M313.4 370.3h0M312.1 322.1h0M311.8 306.6h0M312.5 288.9h0M312.9 346.8h0M311.6 339.3h0M311.3 311.6h0M311.8 304.6h0M313.4 321.2h0M312.7 326.1h0M311.2 351.2h0M311.5 376.8h0M312.2 323.3h0M317.6 342.4h0M313.8 358.5h0M313.4 337.2h0M314.2 372.7h0M314.2 360.2h0M315 353.5h0M313.8 339.7h0M314.6 338.4h0M318.6 358.3h0M313.7 352.6h0M315.3 361h0M316.2 326.1h0M313.9 346.2h0M315.3 370.2h0M314.2 340.7h0M314.5 337.5h0M315.9 321h0M317.8 352.4h0M314.8 365.5h0M313.9 346h0M316.2 364h0M314.9 370h0M313.6 320.6h0M315.1 354.7h0M315.3 342.6h0M313.7 329.7h0M314 349.7h0M317.5 365h0M315.7 331.3h0M316.9 371.4h0M314.5 333.1h0M314.5 333.3h0M313.6 353.4h0M313.4 353.1h0M316 348.7h0M316.9 335.4h0M313.9 334.7h0M314.4 340.9h0M314.7 331h0M315.3 351.6h0M313.8 317.9h0M313.4 325.6h0M313.9 351.8h0M318.9 333.2h0M314.1 333.1h0M314.1 325.6h0M317.9 352.8h0M315.6 338.1h0M319.1 336.7h0M316.8 343.9h0M317.1 335.3h0M315.8 345h0M314 340.4h0M315.2 354.1h0M317.9 362.4h0" stroke="#000" stroke-width="3.5" stroke-linecap="round" fill="none"/>
<polyline fill="none" stroke="#000" stroke-width="3" stroke-linecap="round" stroke-linejoin="round" points="311.2,344.1 317.3,343 323.5,341.8 329.6,340.7 335.8,339.5 341.9,338.4 348.1,337.1 354.2,335.9 360.4,334.6 366.5,333.4 372.7,332 378.8,330.7 385,329.3 391.1,328 397.3,326.5 403.4,325.1 409.6,323.6 415.7,322.1 421.9,320.6 428,319 434.2,317.4 440.3,315.8 446.5,314.1 452.6,312.4 458.8,310.7 464.9,308.9 471.1,307.2 477.2,305.3 483.4,303.5 489.5,301.5 495.6,299.6"/>
<rect x="304.3" y="231.2" width="198.4" height="173.8" fill="none" stroke="#000" stroke-width="1.15"/>
<path d="M304.3 399.4h-7M304.3 364.6h-7M304.3 329.8h-7M304.3 295h-7M304.3 260.2h-7M311.2 405v6.5M358.8 405v6.5M406.4 405v6.5M454 405v6.5M501.6 405v6.5" stroke="#000" stroke-width="1" fill="none"/>
<g font-size="10.4" fill="#000" stroke="#000" stroke-width="0.2">
<text x="291.1" y="403.1" text-anchor="end">0</text>
<text x="291.1" y="368.3" text-anchor="end">50</text>
<text x="291.1" y="333.5" text-anchor="end">100</text>
<text x="291.1" y="298.7" text-anchor="end">150</text>
<text x="291.1" y="263.9" text-anchor="end">200</text>
<text x="311.2" y="429.4" text-anchor="middle">0</text>
<text x="358.8" y="429.4" text-anchor="middle">20</text>
<text x="406.4" y="429.4" text-anchor="middle">40</text>
<text x="454" y="429.4" text-anchor="middle">60</text>
<text x="501.6" y="429.4" text-anchor="middle">80</text>
</g>
<text x="280.9" y="226.3" font-size="19" font-weight="bold" fill="#000">e.</text>
</g>
<g id="panel-f">
<polygon fill="#d3d3d3" points="561.4,374.4 566,373.6 570.6,372.8 575.2,372 579.8,371.2 584.4,370.4 589,369.6 593.5,368.7 598.1,367.9 602.7,367 607.3,366.2 611.9,365.3 616.5,364.4 621.1,363.5 625.7,362.5 630.3,361.6 634.9,360.6 639.5,359.6 644.1,358.5 648.6,357.5 653.2,356.4 657.8,355.2 662.4,354 667,352.8 671.6,351.6 676.2,350.3 680.8,349 685.4,347.6 690,346.2 694.6,344.7 699.2,343.2 703.8,341.6 708.3,340 712.9,338.3 717.5,336.5 722.1,334.7 726.7,332.8 731.3,330.9 735.9,328.9 740.5,326.9 745.1,324.7 745.1,375.1 740.5,375.1 735.9,375.2 731.3,375.3 726.7,375.3 722.1,375.4 717.5,375.5 712.9,375.5 708.3,375.6 703.8,375.7 699.2,375.8 694.6,375.9 690,376 685.4,376.1 680.8,376.2 676.2,376.3 671.6,376.4 667,376.5 662.4,376.6 657.8,376.7 653.2,376.8 648.6,376.9 644.1,377.1 639.5,377.2 634.9,377.3 630.3,377.4 625.7,377.6 621.1,377.7 616.5,377.9 611.9,378 607.3,378.2 602.7,378.3 598.1,378.5 593.5,378.6 589,378.8 584.4,379 579.8,379.1 575.2,379.3 570.6,379.5 566,379.6 561.4,379.8"/>
<path d="M561.4 237.6h0M638.1 242.9h0M561.4 264.5h0M566.4 264.5h0M589.1 269.9h0M561.4 286h0M745.1 286h0M561.4 291.4h0M566.4 291.4h0M561.4 296.8h0M561.4 302.2h0M566.6 302.2h0M561.4 307.6h0M562.3 307.6h0M582 307.6h0M561.4 312.9h0M562.3 312.9h0M653 312.9h0M561.4 318.3h0M622.9 318.3h0M561.4 323.7h0M577.3 323.7h0M596.7 323.7h0M638.3 323.7h0M561.4 329.1h0M566.6 329.1h0M639.7 329.1h0M561.4 334.5h0M566.6 334.5h0M571.8 334.5h0M645 334.5h0M561.4 339.9h0M566.6 339.9h0M573 339.9h0M582 339.9h0M617 339.9h0M561.4 345.2h0M562.5 345.2h0M563.5 345.2h0M564.6 345.2h0M565.7 345.2h0M566.7 345.2h0M567.8 345.2h0M568.9 345.2h0M583.6 345.2h0M620.1 345.2h0M639.7 345.2h0M561.4 350.6h0M563.1 350.6h0M567.8 350.6h0M582 350.6h0M589.1 350.6h0M622.9 350.6h0M561.4 356h0M562.5 356h0M563.5 356h0M564.6 356h0M565.7 356h0M571.3 356h0M583.6 356h0M586.7 356h0M589.1 356h0M592.2 356h0M653 356h0M561.4 361.4h0M562.5 361.4h0M563.5 361.4h0M564.6 361.4h0M565.7 361.4h0M571.3 361.4h0M587.9 361.4h0M609.9 361.4h0M611.8 361.4h0M561.4 366.8h0M562.5 366.8h0M563.5 366.8h0M564.6 366.8h0M565.7 366.8h0M566.7 366.8h0M567.8 366.8h0M573 366.8h0M599.7 366.8h0M611.8 366.8h0M679 366.8h0M561.4 372.2h0M562.5 372.2h0M563.5 372.2h0M564.6 372.2h0M565.7 372.2h0M566.7 372.2h0M567.8 372.2h0M568.9 372.2h0M569.9 372.2h0M578.4 372.2h0M582 372.2h0M596.7 372.2h0M598.6 372.2h0M620.1 372.2h0M561.4 377.6h0M562.5 377.6h0M563.5 377.6h0M564.6 377.6h0M565.7 377.6h0M566.7 377.6h0M567.8 377.6h0M577.3 377.6h0M583.2 377.6h0M589.1 377.6h0M605.7 377.6h0M561.4 382.9h0M562.5 382.9h0M563.5 382.9h0M564.6 382.9h0M565.7 382.9h0M570.2 382.9h0M571.2 382.9h0M572.3 382.9h0M573.4 382.9h0M574.4 382.9h0M575.5 382.9h0M576.5 382.9h0M577.6 382.9h0M578.7 382.9h0M587.9 382.9h0M611.8 382.9h0M561.4 388.3h0M562.5 388.3h0M563.5 388.3h0M564.6 388.3h0M565.7 388.3h0M576.1 388.3h0M580.3 388.3h0M592.2 388.3h0M604.5 388.3h0M611.8 388.3h0M561.4 393.7h0M562.5 393.7h0M563.5 393.7h0M564.6 393.7h0M565.7 393.7h0M566.7 393.7h0M567.8 393.7h0M568.9 393.7h0M569.9 393.7h0M571 393.7h0M572.1 393.7h0M608.7 393.7h0M685.9 393.7h0M561.4 399.1h0M562.5 399.1h0M563.5 399.1h0M570.2 399.1h0M580.3 399.1h0M582 399.1h0M586.7 399.1h0M656.1 399.1h0" stroke="#000" stroke-width="3.5" stroke-linecap="round" fill="none"/>
<polyline fill="none" stroke="#000" stroke-width="3" stroke-linecap="round" stroke-linejoin="round" points="561.4,377.6 567.5,377.1 573.6,376.5 579.8,376 585.9,375.5 592,374.9 598.1,374.4 604.3,373.8 610.4,373.2 616.5,372.6 622.6,372 628.7,371.3 634.9,370.7 641,370 647.1,369.3 653.2,368.6 659.4,367.9 665.5,367.2 671.6,366.5 677.7,365.7 683.9,364.9 690,364.1 696.1,363.3 702.2,362.5 708.3,361.6 714.5,360.7 720.6,359.8 726.7,358.9 732.8,358 739,357 745.1,356"/>
<rect x="554.1" y="231.2" width="198.5" height="173.8" fill="none" stroke="#000" stroke-width="1.15"/>
<path d="M554.1 399.1h-7M554.1 372.2h-7M554.1 345.2h-7M554.1 318.3h-7M554.1 291.4h-7M554.1 264.5h-7M554.1 237.6h-7M561.4 405v6.5M608.7 405v6.5M656.1 405v6.5M703.4 405v6.5M750.8 405v6.5" stroke="#000" stroke-width="1" fill="none"/>
<g font-size="10.4" fill="#000" stroke="#000" stroke-width="0.2">
<text x="540.9" y="402.8" text-anchor="end">0</text>
<text x="540.9" y="375.9" text-anchor="end">5</text>
<text x="540.9" y="348.9" text-anchor="end">10</text>
<text x="540.9" y="322" text-anchor="end">15</text>
<text x="540.9" y="295.1" text-anchor="end">20</text>
<text x="540.9" y="268.2" text-anchor="end">25</text>
<text x="540.9" y="241.3" text-anchor="end">30</text>
<text x="561.4" y="429.4" text-anchor="middle">0</text>
<text x="608.7" y="429.4" text-anchor="middle">20</text>
<text x="656.1" y="429.4" text-anchor="middle">40</text>
<text x="703.4" y="429.4" text-anchor="middle">60</text>
<text x="750.8" y="429.4" text-anchor="middle">80</text>
</g>
<text x="530.9" y="226.5" font-size="19" font-weight="bold" fill="#000">f.</text>
</g>
<text transform="translate(12.2,106) rotate(-90)" text-anchor="middle" font-size="13.9" fill="#000" stroke="#000" stroke-width="0.2">Species richness</text>
<text transform="translate(12.2,303) rotate(-90)" text-anchor="middle" font-size="14" fill="#000" stroke="#000" stroke-width="0.2">Cover / Abundance</text>
<text x="404.2" y="459" text-anchor="middle" font-size="20" textLength="180.5" lengthAdjust="spacingAndGlyphs" fill="#000">Bitou bush cover (%)</text>
<g transform="translate(210,20) scale(0.1036)" fill="#000" stroke="none">
<path fill="none" stroke="#000" stroke-width="9" stroke-linecap="round" stroke-linejoin="round" d="M203 400 L194 335 L201 282 L222 218 L246 166 L264 118 M150 238 L186 300 M236 286 L206 322 M170 298 L190 320 M204 250 L206 275 M250 215 L228 250"/>
<path d="M270 42 L292 47 L288 75 L294 92 L280 108 L268 137 L254 130 L238 98 L235 80 L252 66 Z"/>
<path d="M197 131 L222 127 L245 148 L251 176 L234 171 L210 156 Z"/>
<path d="M268 178 L272 200 L255 225 L236 232 L238 205 L252 186 Z"/>
<path d="M203 212 L214 225 L213 250 L204 262 L192 248 L191 226 Z"/>
<path d="M60 178 L100 171 L135 189 L153 214 L152 242 L120 234 L88 214 Z"/>
<path d="M232 284 L255 256 L292 245 L326 254 L337 268 L312 286 L272 294 Z"/>
<path d="M132 278 L160 280 L178 298 L170 306 L148 298 Z"/>
<path d="M189 335 L204 332 L211 362 L227 382 L222 418 L188 420 L186 413 L150 419 L146 407 L185 402 Z"/>
</g>
<g transform="translate(210,232) scale(0.1036)" fill="#000" stroke="none">
<path fill="none" stroke="#000" stroke-width="9" stroke-linecap="round" stroke-linejoin="round" d="M203 400 L194 335 L201 282 L222 218 L246 166 L264 118 M150 238 L186 300 M236 286 L206 322 M170 298 L190 320 M204 250 L206 275 M250 215 L228 250"/>
<path d="M270 42 L292 47 L288 75 L294 92 L280 108 L268 137 L254 130 L238 98 L235 80 L252 66 Z"/>
<path d="M197 131 L222 127 L245 148 L251 176 L234 171 L210 156 Z"/>
<path d="M268 178 L272 200 L255 225 L236 232 L238 205 L252 186 Z"/>
<path d="M203 212 L214 225 L213 250 L204 262 L192 248 L191 226 Z"/>
<path d="M60 178 L100 171 L135 189 L153 214 L152 242 L120 234 L88 214 Z"/>
<path d="M232 284 L255 256 L292 245 L326 254 L337 268 L312 286 L272 294 Z"/>
<path d="M132 278 L160 280 L178 298 L170 306 L148 298 Z"/>
<path d="M189 335 L204 332 L211 362 L227 382 L222 418 L188 420 L186 413 L150 419 L146 407 L185 402 Z"/>
</g>
<g transform="translate(398,20) scale(0.1036)" fill="#000" stroke="#000">
<path fill="none" stroke-width="13" stroke-linecap="round" d="M66 52 Q98 160 146 246"/><path stroke="none" d="M112 190 L128 186 L160 240 L130 262 Z"/>
<path stroke="none" d="M98 286 L124 266 L138 242 C165 232 205 220 250 200 C270 193 300 200 312 213 L336 214 L314 228 C312 270 290 310 250 325 C210 340 165 334 138 308 L124 297 L100 296 Z"/>
<path fill="none" stroke-width="9" d="M145 318 L156 376 M138 382 L166 378 M182 332 L214 380 L240 406 M196 400 L218 384"/>
</g>
<g transform="translate(398,229.2) scale(0.1036)" fill="#000" stroke="#000">
<path fill="none" stroke-width="13" stroke-linecap="round" d="M66 52 Q98 160 146 246"/><path stroke="none" d="M112 190 L128 186 L160 240 L130 262 Z"/>
<path stroke="none" d="M98 286 L124 266 L138 242 C165 232 205 220 250 200 C270 193 300 200 312 213 L336 214 L314 228 C312 270 290 310 250 325 C210 340 165 334 138 308 L124 297 L100 296 Z"/>
<path fill="none" stroke-width="9" d="M145 318 L156 376 M138 382 L166 378 M182 332 L214 380 L240 406 M196 400 L218 384"/>
</g>
<g transform="translate(690,22) scale(0.0735)" fill="#000" stroke="#000">
<path fill="none" stroke-width="15" stroke-linecap="round" d="M240 97 C150 150 90 230 105 290 C120 350 200 365 245 325"/>
<path stroke="none" d="M232 305 C235 250 290 205 370 200 C400 200 425 208 440 222 L444 214 C450 192 486 196 488 222 L483 246 C500 265 515 300 527 340 L522 350 L495 347 L470 352 L452 350 L445 362 L425 356 L395 358 L365 368 L355 376 L335 372 L300 365 C270 355 245 340 232 305 Z"/>
</g>
<g transform="translate(690,235) scale(0.0735)" fill="#000" stroke="#000">
<path fill="none" stroke-width="15" stroke-linecap="round" d="M240 97 C150 150 90 230 105 290 C120 350 200 365 245 325"/>
<path stroke="none" d="M232 305 C235 250 290 205 370 200 C400 200 425 208 440 222 L444 214 C450 192 486 196 488 222 L483 246 C500 265 515 300 527 340 L522 350 L495 347 L470 352 L452 350 L445 362 L425 356 L395 358 L365 368 L355 376 L335 372 L300 365 C270 355 245 340 232 305 Z"/>
</g>
</svg>
</body></html>
